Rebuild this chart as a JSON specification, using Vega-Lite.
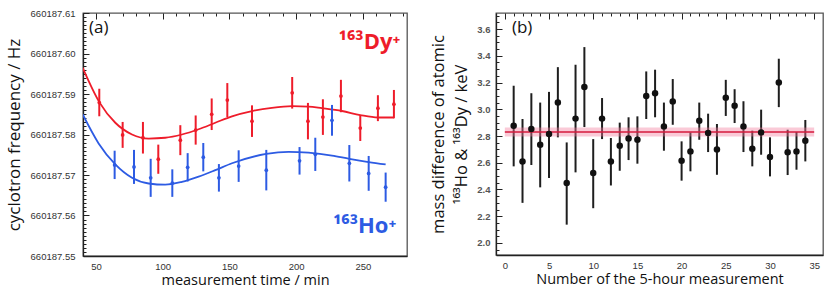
{
 "$schema": "https://vega.github.io/schema/vega-lite/v6.json",
 "padding": {"left": 4, "top": 7, "right": 2, "bottom": 2},
 "background": "white",
 "config": {
  "view": {"stroke": "#555555", "strokeWidth": 1.3},
  "concat": {"spacing": 22},
  "axis": {"labelOverlap": false, "ticks": false, "grid": true, "gridColor": "#222222", "gridOpacity": 1, "gridWidth": 1, "domainColor": "#222222", "domainWidth": 1.3, "labelFont": "Liberation Sans", "labelFontSize": 9.5, "labelColor": "#333333", "titleFont": "Open Sans", "titleFontSize": 14.5, "titleFontWeight": "normal", "titleColor": "#111111"}
 },
 "datasets": {
  "fit": [
   {"series":"Dy","t":40,"f":660187.5965},{"series":"Dy","t":52.5,"f":660187.5880},{"series":"Dy","t":64.5,"f":660187.5829},{"series":"Dy","t":77,"f":660187.5800},{"series":"Dy","t":89.5,"f":660187.5790},{"series":"Dy","t":101.9,"f":660187.5792},{"series":"Dy","t":114.4,"f":660187.5800},{"series":"Dy","t":126.9,"f":660187.5813},{"series":"Dy","t":139.4,"f":660187.5829},{"series":"Dy","t":151.9,"f":660187.5845},{"series":"Dy","t":166.9,"f":660187.5858},{"series":"Dy","t":181.8,"f":660187.5866},{"series":"Dy","t":197,"f":660187.5870},{"series":"Dy","t":209.2,"f":660187.5869},{"series":"Dy","t":219.3,"f":660187.5865},{"series":"Dy","t":234.3,"f":660187.5858},{"series":"Dy","t":248,"f":660187.5848},{"series":"Dy","t":261.2,"f":660187.5842},{"series":"Dy","t":273.2,"f":660187.5842},
   {"series":"Ho","t":40,"f":660187.5850},{"series":"Ho","t":52,"f":660187.5778},{"series":"Ho","t":64.5,"f":660187.5726},{"series":"Ho","t":77,"f":660187.5693},{"series":"Ho","t":89.5,"f":660187.5679},{"series":"Ho","t":101.9,"f":660187.5676},{"series":"Ho","t":114.4,"f":660187.5683},{"series":"Ho","t":126.9,"f":660187.5696},{"series":"Ho","t":139.4,"f":660187.5712},{"series":"Ho","t":151.9,"f":660187.5729},{"series":"Ho","t":177.6,"f":660187.5752},{"series":"Ho","t":194.3,"f":660187.5757},{"series":"Ho","t":209.2,"f":660187.5755},{"series":"Ho","t":226.8,"f":660187.5748},{"series":"Ho","t":239.8,"f":660187.5740},{"series":"Ho","t":254.3,"f":660187.5732},{"series":"Ho","t":267,"f":660187.5726}
  ],
  "pts": [
   {"series":"Dy","t":52.5,"f":660187.5879,"lo":660187.5845,"hi":660187.5913},
   {"series":"Dy","t":70,"f":660187.5799,"lo":660187.5767,"hi":660187.5831},
   {"series":"Dy","t":85.2,"f":660187.5792,"lo":660187.5753,"hi":660187.5831},
   {"series":"Dy","t":96.7,"f":660187.5739,"lo":660187.5703,"hi":660187.5775},
   {"series":"Dy","t":113.2,"f":660187.5786,"lo":660187.5749,"hi":660187.5823},
   {"series":"Dy","t":124.7,"f":660187.5811,"lo":660187.5775,"hi":660187.5847},
   {"series":"Dy","t":136.7,"f":660187.5850,"lo":660187.5811,"hi":660187.5889},
   {"series":"Dy","t":148.4,"f":660187.5885,"lo":660187.5843,"hi":660187.5927},
   {"series":"Dy","t":166.9,"f":660187.5833,"lo":660187.5794,"hi":660187.5872},
   {"series":"Dy","t":197.0,"f":660187.5903,"lo":660187.5864,"hi":660187.5942},
   {"series":"Dy","t":208.8,"f":660187.5833,"lo":660187.5788,"hi":660187.5878},
   {"series":"Dy","t":220.0,"f":660187.5843,"lo":660187.5799,"hi":660187.5887},
   {"series":"Dy","t":233.5,"f":660187.5895,"lo":660187.5855,"hi":660187.5935},
   {"series":"Dy","t":248.0,"f":660187.5816,"lo":660187.5784,"hi":660187.5848},
   {"series":"Dy","t":261.2,"f":660187.5865,"lo":660187.5833,"hi":660187.5897},
   {"series":"Dy","t":273.2,"f":660187.5875,"lo":660187.5840,"hi":660187.5910},
   {"series":"Ho","t":64.0,"f":660187.5725,"lo":660187.5690,"hi":660187.5760},
   {"series":"Ho","t":78.5,"f":660187.5720,"lo":660187.5678,"hi":660187.5762},
   {"series":"Ho","t":91.0,"f":660187.5693,"lo":660187.5646,"hi":660187.5740},
   {"series":"Ho","t":107.2,"f":660187.5680,"lo":660187.5646,"hi":660187.5714},
   {"series":"Ho","t":118.7,"f":660187.5719,"lo":660187.5684,"hi":660187.5754},
   {"series":"Ho","t":130.4,"f":660187.5744,"lo":660187.5709,"hi":660187.5779},
   {"series":"Ho","t":142.1,"f":660187.5693,"lo":660187.5659,"hi":660187.5727},
   {"series":"Ho","t":156.9,"f":660187.5722,"lo":660187.5683,"hi":660187.5761},
   {"series":"Ho","t":177.6,"f":660187.5712,"lo":660187.5662,"hi":660187.5762},
   {"series":"Ho","t":202.5,"f":660187.5735,"lo":660187.5701,"hi":660187.5769},
   {"series":"Ho","t":214.3,"f":660187.5751,"lo":660187.5710,"hi":660187.5792},
   {"series":"Ho","t":226.8,"f":660187.5835,"lo":660187.5797,"hi":660187.5873},
   {"series":"Ho","t":239.8,"f":660187.5729,"lo":660187.5684,"hi":660187.5774},
   {"series":"Ho","t":254.3,"f":660187.5704,"lo":660187.5661,"hi":660187.5747},
   {"series":"Ho","t":267.0,"f":660187.5670,"lo":660187.5634,"hi":660187.5706}
  ],
  "mass": [
   {"n":1,"v":2.877,"lo":2.573,"hi":3.176},{"n":2,"v":2.61,"lo":2.30,"hi":2.927},{"n":3,"v":2.852,"lo":2.583,"hi":3.12},{"n":4,"v":2.735,"lo":2.416,"hi":3.05},{"n":5,"v":2.815,"lo":2.486,"hi":3.13},{"n":6,"v":3.05,"lo":2.79,"hi":3.315},{"n":7,"v":2.449,"lo":2.137,"hi":2.752},{"n":8,"v":2.93,"lo":2.528,"hi":3.333},{"n":9,"v":3.166,"lo":2.867,"hi":3.465},{"n":10,"v":2.523,"lo":2.26,"hi":2.777},
   {"n":11,"v":2.93,"lo":2.777,"hi":3.084},{"n":12,"v":2.61,"lo":2.43,"hi":2.785},{"n":13,"v":2.727,"lo":2.54,"hi":2.90},{"n":14,"v":2.782,"lo":2.62,"hi":2.94},{"n":15,"v":2.772,"lo":2.593,"hi":2.947},{"n":16,"v":3.10,"lo":2.927,"hi":3.283},{"n":17,"v":3.119,"lo":2.94,"hi":3.296},{"n":18,"v":2.872,"lo":2.69,"hi":3.05},{"n":19,"v":3.059,"lo":2.884,"hi":3.226},{"n":20,"v":2.615,"lo":2.466,"hi":2.76},
   {"n":21,"v":2.685,"lo":2.536,"hi":2.827},{"n":22,"v":2.914,"lo":2.772,"hi":3.05},{"n":23,"v":2.822,"lo":2.68,"hi":2.967},{"n":24,"v":2.70,"lo":2.51,"hi":2.89},{"n":25,"v":3.086,"lo":2.95,"hi":3.22},{"n":26,"v":3.026,"lo":2.897,"hi":3.15},{"n":27,"v":2.872,"lo":2.68,"hi":3.06},{"n":28,"v":2.705,"lo":2.573,"hi":2.84},{"n":29,"v":2.827,"lo":2.66,"hi":2.997},{"n":30,"v":2.643,"lo":2.498,"hi":2.79},
   {"n":31,"v":3.20,"lo":3.016,"hi":3.378},{"n":32,"v":2.678,"lo":2.508,"hi":2.847},{"n":33,"v":2.685,"lo":2.548,"hi":2.83},{"n":34,"v":2.765,"lo":2.61,"hi":2.92}
  ]
 },
 "hconcat": [
  {
   "width": 324, "height": 243,
   "layer": [
    {"data": {"name": "fit"}, "mark": {"type": "line", "interpolate": "monotone", "strokeWidth": 1.8, "clip": true},
     "encoding": {
      "x": {"field": "t", "type": "quantitative", "scale": {"domain": [40.3, 283], "nice": false, "zero": false},
            "axis": {"orient": "bottom", "tickCount": 1000, "values": [50, 60, 70, 80, 90, 100, 110, 120, 130, 140, 150, 160, 170, 180, 190, 200, 210, 220, 230, 240, 250, 260, 270, 280],
                     "labelExpr": "datum.value % 50 === 0 ? format(datum.value, 'd') : ''",
                     "gridDash": {"condition": {"test": "datum.value % 50 === 0", "value": [6, 2000]}, "value": [3, 2000]},
                     "labelPadding": 5, "title": "measurement time / min", "titlePadding": 3}},
      "y": {"field": "f", "type": "quantitative", "scale": {"domain": [660187.55, 660187.61], "nice": false, "zero": false},
            "axis": {"orient": "left", "tickCount": 1000, "values": [660187.55, 660187.551, 660187.552, 660187.553, 660187.554, 660187.555, 660187.556, 660187.557, 660187.558, 660187.559, 660187.56, 660187.561, 660187.562, 660187.563, 660187.564, 660187.565, 660187.566, 660187.567, 660187.568, 660187.569, 660187.57, 660187.571, 660187.572, 660187.573, 660187.574, 660187.575, 660187.576, 660187.577, 660187.578, 660187.579, 660187.58, 660187.581, 660187.582, 660187.583, 660187.584, 660187.585, 660187.586, 660187.587, 660187.588, 660187.589, 660187.59, 660187.591, 660187.592, 660187.593, 660187.594, 660187.595, 660187.596, 660187.597, 660187.598, 660187.599, 660187.6, 660187.601, 660187.602, 660187.603, 660187.604, 660187.605, 660187.606, 660187.607, 660187.608, 660187.609, 660187.61],
                     "labelExpr": "abs(datum.value * 100 - round(datum.value * 100)) < 0.01 ? format(datum.value, '.2f') : ''",
                     "gridDash": {"condition": {"test": "abs(datum.value * 100 - round(datum.value * 100)) < 0.01", "value": [6, 2000]}, "value": [3, 2000]},
                     "labelPadding": 8, "title": "cyclotron frequency / Hz", "titleFontSize": 17, "titlePadding": 7}},
      "color": {"field": "series", "type": "nominal", "scale": {"domain": ["Dy", "Ho"], "range": ["#ee1c2a", "#2d5be3"]}, "legend": null}
     }},
    {"data": {"name": "pts"}, "mark": {"type": "rule", "strokeWidth": 2},
     "encoding": {"x": {"field": "t", "type": "quantitative"}, "y": {"field": "lo", "type": "quantitative"}, "y2": {"field": "hi"}, "color": {"field": "series", "type": "nominal"}}},
    {"data": {"name": "pts"}, "mark": {"type": "circle", "size": 14, "opacity": 1},
     "encoding": {"x": {"field": "t", "type": "quantitative"}, "y": {"field": "f", "type": "quantitative"}, "color": {"field": "series", "type": "nominal"}}},
    {"data": {"values": [{}]}, "mark": {"type": "text", "text": "(a)", "font": "Open Sans", "fontSize": 17, "align": "left", "baseline": "middle", "color": "#111111"},
     "encoding": {"x": {"datum": 44.8, "type": "quantitative"}, "y": {"datum": 660187.6063, "type": "quantitative"}}},
    {"data": {"values": [{}]}, "mark": {"type": "text", "text": "¹⁶³Dy⁺", "font": "Open Sans", "fontSize": 22, "fontWeight": "bold", "align": "right", "baseline": "alphabetic", "color": "#ee1c2a"},
     "encoding": {"x": {"datum": 278, "type": "quantitative"}, "y": {"datum": 660187.6012, "type": "quantitative"}}},
    {"data": {"values": [{}]}, "mark": {"type": "text", "text": "¹⁶³Ho⁺", "font": "Open Sans", "fontSize": 22, "fontWeight": "bold", "align": "right", "baseline": "alphabetic", "color": "#2d5be3"},
     "encoding": {"x": {"datum": 275, "type": "quantitative"}, "y": {"datum": 660187.5557, "type": "quantitative"}}}
   ]
  },
  {
   "width": 327, "height": 242,
   "layer": [
    {"data": {"name": "mass"}, "mark": {"type": "rule", "strokeWidth": 2, "color": "#1e1e1e"},
     "encoding": {
      "x": {"field": "n", "type": "quantitative", "scale": {"domain": [-1, 36], "nice": false, "zero": false},
            "axis": {"orient": "bottom", "tickCount": 1000, "values": [0, 1, 2, 3, 4, 5, 6, 7, 8, 9, 10, 11, 12, 13, 14, 15, 16, 17, 18, 19, 20, 21, 22, 23, 24, 25, 26, 27, 28, 29, 30, 31, 32, 33, 34, 35],
                     "labelExpr": "datum.value % 5 === 0 ? format(datum.value, 'd') : ''",
                     "gridDash": {"condition": {"test": "datum.value % 5 === 0", "value": [6, 2000]}, "value": [3, 2000]},
                     "labelPadding": 5, "title": "Number of the 5-hour measurement", "titlePadding": 3}},
      "y": {"field": "lo", "type": "quantitative", "scale": {"domain": [1.91, 3.72], "nice": false, "zero": false},
            "axis": {"orient": "left", "tickCount": 1000, "values": [1.95, 2, 2.05, 2.1, 2.15, 2.2, 2.25, 2.3, 2.35, 2.4, 2.45, 2.5, 2.55, 2.6, 2.65, 2.7, 2.75, 2.8, 2.85, 2.9, 2.95, 3, 3.05, 3.1, 3.15, 3.2, 3.25, 3.3, 3.35, 3.4, 3.45, 3.5, 3.55, 3.6, 3.65, 3.7],
                     "labelExpr": "abs(datum.value * 5 - round(datum.value * 5)) < 0.01 ? format(datum.value, '.1f') : ''",
                     "gridDash": {"condition": {"test": "abs(datum.value * 5 - round(datum.value * 5)) < 0.01", "value": [6, 2000]}, "value": [3, 2000]},
                     "labelPadding": 6, "labelFontWeight": "bold", "labelColor": "#555555", "title": ["mass difference of atomic", "¹⁶³Ho & ¹⁶³Dy / keV"], "titleFontSize": 16.5, "titleLineHeight": 23, "titlePadding": 7}},
      "y2": {"field": "hi"}}},
    {"data": {"values": [{}]}, "mark": {"type": "rect", "color": "#f27a9c", "opacity": 0.4},
     "encoding": {"x": {"datum": 0, "type": "quantitative"}, "x2": {"datum": 35}, "y": {"datum": 2.797, "type": "quantitative"}, "y2": {"datum": 2.863}}},
    {"data": {"values": [{}]}, "mark": {"type": "rule", "color": "#d41a3c", "strokeWidth": 1.5},
     "encoding": {"x": {"datum": 0, "type": "quantitative"}, "x2": {"datum": 35}, "y": {"datum": 2.83, "type": "quantitative"}}},
    {"data": {"name": "mass"}, "mark": {"type": "circle", "size": 42, "opacity": 1, "color": "#111111"},
     "encoding": {"x": {"field": "n", "type": "quantitative"}, "y": {"field": "v", "type": "quantitative"}}},
    {"data": {"values": [{}]}, "mark": {"type": "text", "text": "(b)", "font": "Open Sans", "fontSize": 17, "align": "left", "baseline": "middle", "color": "#111111"},
     "encoding": {"x": {"datum": 0.8, "type": "quantitative"}, "y": {"datum": 3.608, "type": "quantitative"}}}
   ]
  }
 ]
}
